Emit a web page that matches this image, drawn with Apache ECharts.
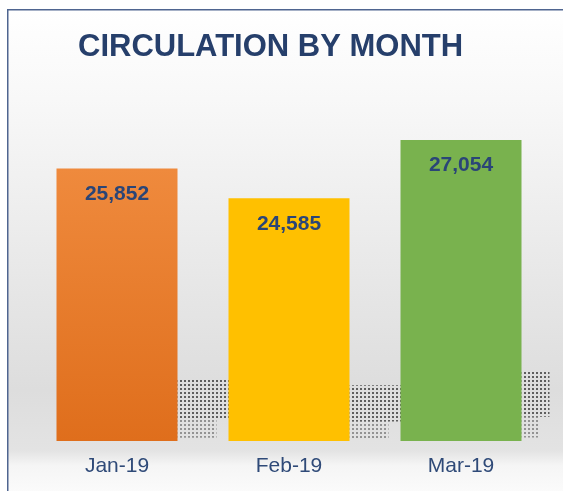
<!DOCTYPE html>
<html>
<head>
<meta charset="utf-8">
<script src="https://cdn.jsdelivr.net/npm/echarts@6/dist/echarts.min.js"></script>
<style>
  html, body { margin: 0; padding: 0; background: #fff; }
  #chart { width: 563px; height: 491px; }
</style>
</head>
<body>
<div id="chart"></div>
<script>
const months = ['Jan-19', 'Feb-19', 'Mar-19']
const circulation = [25852, 24585, 27054]

const barColors = [
  new echarts.graphic.LinearGradient(0, 0, 0, 1, [
    { offset: 0, color: '#EF8A3D' },
    { offset: 1, color: '#DF6E1C' }
  ]),
  '#FFC000',
  '#79B24E'
]

// dotted pattern for the soft shadow behind bars
function dotPattern () {
  const c = document.createElement('canvas')
  c.width = 4
  c.height = 4
  const ctx = c.getContext('2d')
  ctx.fillStyle = '#333'
  ctx.fillRect(0, 0, 2, 2)
  return c
}

const chart = echarts.init(document.getElementById('chart'))
const yMin = 14300
const barW = 121

const option = {
  animation: false,
  graphic: [
    {
      type: 'rect',
      left: 7,
      top: 9,
      z: -10,
      shape: { width: 600, height: 500 },
      style: {
        fill: new echarts.graphic.LinearGradient(0, 0, 0, 1, [
          { offset: 0, color: '#ffffff' },
          { offset: 0.18, color: '#f8f8f8' },
          { offset: 0.76, color: '#dddddd' },
          { offset: 0.88, color: '#e3e3e3' },
          { offset: 0.91, color: '#f5f5f5' },
          { offset: 1, color: '#ffffff' }
        ]),
        stroke: '#4F6590',
        lineWidth: 1.5
      }
    }
  ],
  title: {
    text: 'CIRCULATION BY MONTH',
    left: 73,
    top: 27,
    textStyle: {
      fontFamily: 'Liberation Sans',
      fontWeight: 'bold',
      fontSize: 31,
      color: '#263F6B'
    }
  },
  grid: {
    left: 31,
    right: 16,
    top: 60,
    bottom: 50
  },
  xAxis: {
    type: 'category',
    data: months,
    axisLine: { show: false },
    axisTick: { show: false },
    axisLabel: {
      margin: 15,
      fontFamily: 'Liberation Sans',
      fontSize: 21,
      color: '#2F4A78'
    }
  },
  yAxis: {
    type: 'value',
    min: yMin,
    max: 30450,
    show: false,
    splitLine: { show: false }
  },
  series: [
    {
      type: 'custom',
      z: 1,
      silent: true,
      data: circulation.map((v, i) => [i, v]),
      renderItem: function (params, api) {
        const base = api.coord([api.value(0), yMin])
        const top = api.coord([api.value(0), api.value(1)])
        const h = (base[1] - top[1]) * 0.23
        const x = base[0] + barW / 2
        const w = params.dataIndex === 2 ? 28 : 60
        return {
          type: 'group',
          children: [
            {
              type: 'rect',
              shape: { x: x, y: base[1] - h, width: w, height: h * 0.65 },
              style: { fill: { image: dotPattern(), repeat: 'repeat' }, opacity: 0.75 }
            },
            {
              type: 'rect',
              shape: { x: x, y: base[1] - h * 0.35, width: w * 0.65, height: h * 0.3 },
              style: { fill: { image: dotPattern(), repeat: 'repeat' }, opacity: 0.45 }
            }
          ]
        }
      }
    },
    {
      type: 'bar',
      z: 2,
      barWidth: barW,
      data: circulation.map((v, i) => ({ value: v, itemStyle: { color: barColors[i] } })),
      label: {
        show: true,
        position: 'insideTop',
        distance: 15,
        fontFamily: 'Liberation Sans',
        fontWeight: 'bold',
        fontSize: 21,
        color: '#2A4577',
        formatter: p => p.value.toLocaleString('en-US')
      }
    }
  ]
}

chart.setOption(option)
</script>
</body>
</html>
